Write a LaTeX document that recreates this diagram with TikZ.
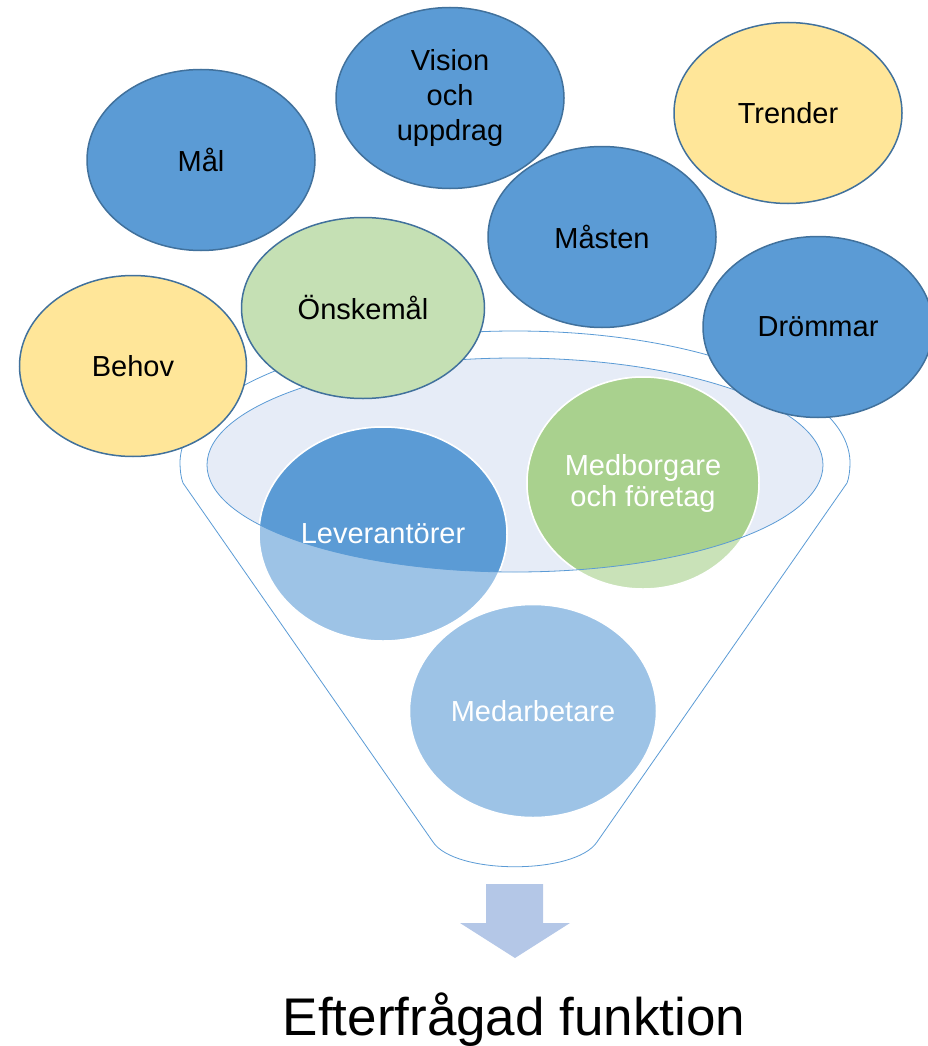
\documentclass[tikz,border=0pt]{standalone}
\usepackage{fontspec}
\setmainfont{Liberation Sans}
\usetikzlibrary{shapes.geometric}

\definecolor{bubbleblue}{HTML}{5B9BD5}
\definecolor{bubbleyellow}{HTML}{FFE699}
\definecolor{bubblegreen}{HTML}{C5E0B4}
\definecolor{bubbleedge}{HTML}{41719C}
\definecolor{levlight}{HTML}{9DC3E6}
\definecolor{medlight}{HTML}{C9E2B8}
\definecolor{meddark}{HTML}{A9D18E}
\definecolor{mouthfill}{HTML}{E6ECF7}
\definecolor{arrowfill}{HTML}{B4C7E7}

\tikzset{
  bubble/.style={ellipse, draw=bubbleedge, line width=1.5pt, inner sep=0pt,
    minimum width=228pt, minimum height=181pt, align=center,
    font=\fontsize{29}{35}\selectfont},
  inbubble/.style={ellipse, draw=white, line width=1.5pt, inner sep=0pt},
  intext/.style={text=white, align=center, font=\fontsize{29}{31}\selectfont},
  funnelline/.style={draw=bubbleblue, line width=0.8pt}
}

\begin{document}
\begin{tikzpicture}[x=1pt,y=-1pt]
   \useasboundingbox (0,0) rectangle (928,1046);
   % funnel
   \draw[funnelline] (183,483) -- (433,842) .. controls (455,875) and (575,875) .. (597,842)
      -- (847,483) .. controls (849,478) and (850,470) .. (850,463)
      arc[start angle=0, end angle=-180, x radius=335, y radius=132]
      .. controls (180,470) and (181,478) .. (183,483);
   \coordinate (mouth) at (515,465);
   \fill[mouthfill] (mouth) ellipse[x radius=308, y radius=107];
   % inner bubbles
   \node[inbubble, fill=levlight, minimum width=248pt, minimum height=214pt] (lev) at (383,534) {};
   \node[inbubble, fill=medlight, minimum width=232pt, minimum height=212pt] (med) at (643,483) {};
   \node[inbubble, fill=levlight, minimum width=247pt, minimum height=213pt] (arb) at (533,711) {};
   \begin{scope}
      \clip (mouth) ellipse[x radius=308, y radius=107];
      \node[inbubble, fill=bubbleblue, minimum width=248pt, minimum height=214pt] at (lev) {};
      \node[inbubble, fill=meddark, minimum width=232pt, minimum height=212pt] at (med) {};
   \end{scope}
   \draw[funnelline] (mouth) ellipse[x radius=308, y radius=107];
   \node[intext] at (lev) {Leverantörer};
   \node[intext] at (med) {Medborgare\\och företag};
   \node[intext] at (arb) {Medarbetare};
   % outer bubbles
   \node[bubble, fill=bubbleblue] (mal) at (201,160) {Mål};
   \node[bubble, fill=bubbleblue] (vis) at (450,98) {Vision\\och\\uppdrag};
   \node[bubble, fill=bubbleyellow] (tre) at (788,113) {Trender};
   \node[bubble, fill=bubbleblue] (mas) at (602,237) {Måsten};
   \node[bubble, fill=bubblegreen, minimum width=243pt] (ons) at (363,308) {Önskemål};
   \node[bubble, fill=bubbleyellow, minimum width=227pt] (beh) at (133,366) {Behov};
   \node[bubble, fill=bubbleblue, minimum width=230pt] (dro) at (818,327) {Drömmar};
   % arrow and result
   \fill[arrowfill] (486,884) -- (543,884) -- (543,923) -- (570,923) -- (515,958)
      -- (460,923) -- (486,923) -- cycle;
   \node[anchor=base, font=\fontsize{53}{60}\selectfont] (res) at (514,1035) {Efterfrågad funktion};
\end{tikzpicture}
\end{document}
